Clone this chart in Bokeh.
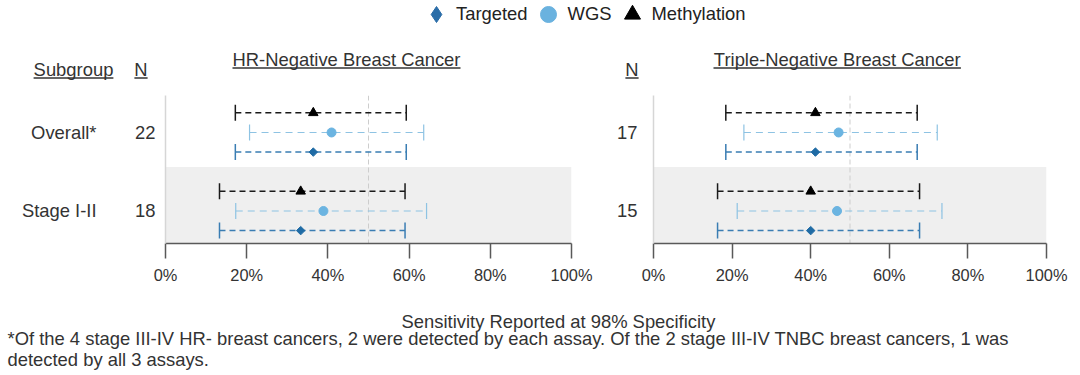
import math
from bokeh.plotting import figure
from bokeh.models import (Range1d, FixedTicker, PrintfTickFormatter, LinearAxis, Span,
                          BoxAnnotation, Whisker, TeeHead, ColumnDataSource, Legend, LegendItem)
from bokeh.layouts import column, row
from bokeh.core.properties import value
from bokeh.embed import file_html
from bokeh.resources import INLINE

# ------------------------------------------------------------------ data
subgroups = ["Overall*", "Stage I-II"]
subgroup_pos = [1, 0]
assays = ["Targeted", "WGS", "Methylation"]

hr_n = [22, 18]
tn_n = [17, 15]

# HR-negative breast cancer: sensitivity (%) and 95% CI
hr_targeted = [36.4, 33.3]
hr_targeted_lo = [17.2, 13.3]
hr_targeted_hi = [59.3, 59.0]
hr_wgs = [40.9, 38.9]
hr_wgs_lo = [20.7, 17.3]
hr_wgs_hi = [63.6, 64.3]
hr_methylation = [36.4, 33.3]
hr_methylation_lo = [17.2, 13.3]
hr_methylation_hi = [59.3, 59.0]

# Triple-negative breast cancer
tn_targeted = [41.2, 40.0]
tn_targeted_lo = [18.4, 16.3]
tn_targeted_hi = [67.1, 67.7]
tn_wgs = [47.1, 46.7]
tn_wgs_lo = [23.0, 21.3]
tn_wgs_hi = [72.2, 73.4]
tn_methylation = [41.2, 40.0]
tn_methylation_lo = [18.4, 16.3]
tn_methylation_hi = [67.1, 67.7]

x_ticks = [0, 20, 40, 60, 80, 100]
reference_line = 50

panel_titles = ["HR-Negative Breast Cancer", "Triple-Negative Breast Cancer"]
column_headers = ["Subgroup", "N", "N"]
x_title = "Sensitivity Reported at 98% Specificity"
footnote = ["*Of the 4 stage III-IV HR- breast cancers, 2 were detected by each assay. "
            "Of the 2 stage III-IV TNBC breast cancers, 1 was",
            "detected by all 3 assays."]

# ------------------------------------------------------------------ styles
FONT = "Liberation Sans"
TXT = "#333333"
FS = "18.4px"
STYLE = {
    "Targeted": dict(offset=-0.25, marker="square", angle=math.pi / 4, size=6,
                     fill="#1F6BA5", line="#3A7DB3", dash="6 4", width=1.5,
                     legend_marker="diamond", legend_fill="#2A6DA8"),
    "WGS": dict(offset=0.0, marker="circle", angle=0, size=9,
                fill="#6BB4E1", line="#8EC3E3", dash="7 5", width=1.2,
                legend_marker="circle", legend_fill="#6AB2DF"),
    "Methylation": dict(offset=0.25, marker="triangle", angle=0, size=9.5,
                        fill="#000000", line="#1A1A1A", dash="6 4", width=1.5,
                        legend_marker="triangle", legend_fill="#000000"),
}
Y_RANGE = (-0.414, 1.471)
BAND_TOP = 0.56


def base_fig(**kw):
    p = figure(output_backend="svg", toolbar_location=None, **kw)
    p.outline_line_color = None
    p.background_fill_color = "white"
    p.border_fill_color = "white"
    return p


def make_panel(width, min_left, min_right, n_vals, n_standoff, series, show_names):
    p = base_fig(width=width, height=195, x_range=Range1d(0, 100),
                 y_range=Range1d(*Y_RANGE), min_border_left=min_left,
                 min_border_right=min_right, min_border_top=0, min_border_bottom=47)
    p.grid.visible = False

    p.add_layout(BoxAnnotation(left=0, right=100, bottom=Y_RANGE[0], top=BAND_TOP,
                               fill_color="#EFEFEF", fill_alpha=1, line_color=None,
                               level="underlay"))
    p.add_layout(Span(location=reference_line, dimension="height", line_color="#CDCDCD",
                      line_width=1, line_dash="5 3", level="underlay"))

    for assay, (vals, lo, hi) in zip(assays, series):
        st = STYLE[assay]
        ys = [yp + st["offset"] for yp in subgroup_pos]
        src = ColumnDataSource(dict(y=ys, x=vals, lo=lo, hi=hi))
        w = Whisker(source=src, base="y", lower="lo", upper="hi", dimension="width",
                    line_color=st["line"], line_width=st["width"], line_dash=st["dash"],
                    level="underlay",
                    lower_head=TeeHead(size=16, line_color=st["line"], line_width=st["width"]),
                    upper_head=TeeHead(size=16, line_color=st["line"], line_width=st["width"]))
        p.add_layout(w)
        p.scatter(x="x", y="y", source=src, marker=st["marker"], angle=st["angle"],
                  size=st["size"], fill_color=st["fill"], line_color=st["fill"])

    ax = p.xaxis[0]
    ax.ticker = FixedTicker(ticks=x_ticks)
    ax.formatter = PrintfTickFormatter(format="%d%%")
    ax.axis_line_color = "#595959"
    ax.axis_line_width = 1.5
    ax.major_tick_line_color = "#595959"
    ax.major_tick_line_width = 1.5
    ax.major_tick_out = 15
    ax.major_tick_in = 0
    ax.minor_tick_out = 0
    ax.minor_tick_in = 0
    ax.major_label_text_font = FONT
    ax.major_label_text_font_size = "16.4px"
    ax.major_label_text_color = TXT
    ax.major_label_standoff = 7

    ay = p.yaxis[0]
    ay.ticker = FixedTicker(ticks=subgroup_pos)
    ay.major_label_overrides = {pos: str(n) for pos, n in zip(subgroup_pos, n_vals)}
    ay.axis_line_color = "#D6D6D6"
    ay.axis_line_width = 1.5
    ay.major_tick_line_color = None
    ay.major_tick_out = 0
    ay.major_tick_in = 0
    ay.minor_tick_out = 0
    ay.minor_tick_in = 0
    ay.major_label_text_font = FONT
    ay.major_label_text_font_size = FS
    ay.major_label_text_color = TXT
    ay.major_label_standoff = n_standoff

    if show_names:
        an = LinearAxis(ticker=FixedTicker(ticks=subgroup_pos),
                        major_label_overrides={pos: s for pos, s in zip(subgroup_pos, subgroups)})
        an.axis_line_color = None
        an.major_tick_line_color = None
        an.minor_tick_line_color = None
        an.major_tick_out = 0
        an.major_tick_in = 0
        an.minor_tick_out = 0
        an.minor_tick_in = 0
        an.major_label_text_font = FONT
        an.major_label_text_font_size = FS
        an.major_label_text_color = TXT
        an.major_label_standoff = 36
        p.add_layout(an, "left")
    return p


# ------------------------------------------------------------------ header strip (page pixel coords)
fh = base_fig(width=1080, height=95, x_axis_type=None, y_axis_type=None,
              x_range=Range1d(0, 1080), y_range=Range1d(95, 0), min_border=0)
head_text = [column_headers[0], column_headers[1], panel_titles[0], column_headers[2], panel_titles[1]]
fh.text(x=[73, 140.5, 346, 631.5, 836.7], y=[69, 69, 59.3, 69, 59.3], text=head_text,
        text_align="center", text_baseline="middle", text_font=value(FONT),
        text_font_size=FS, text_color=TXT)
fh.segment(x0=[33.1, 133.9, 232.0, 624.9, 713.0], x1=[112.9, 147.1, 460.0, 638.1, 960.4],
           y0=[77.5, 77.5, 67.5, 77.5, 67.5], y1=[77.5, 77.5, 67.5, 77.5, 67.5],
           line_color=TXT, line_width=1.3)

# legend (proxy renderers carry the real series but are hidden; only their legend glyphs show)
legend_series = {"Targeted": hr_targeted, "WGS": hr_wgs, "Methylation": hr_methylation}
items = []
for assay in assays:
    st = STYLE[assay]
    r = fh.scatter(x=legend_series[assay], y=subgroup_pos, marker=st["legend_marker"],
                   fill_color=st["legend_fill"], line_color=st["legend_fill"])
    r.visible = False
    items.append(LegendItem(label=value(assay), renderers=[r]))
legend = Legend(items=items, location=(416, 61), orientation="horizontal",
                glyph_width=40, glyph_height=40, label_standoff=-6, spacing=0,
                padding=0, margin=0, border_line_color=None, background_fill_alpha=0,
                label_text_font=FONT, label_text_font_size=FS, label_text_color="#222222")
fh.add_layout(legend)

# ------------------------------------------------------------------ panels
left = make_panel(600, 165, 29, hr_n, 10,
                  [(hr_targeted, hr_targeted_lo, hr_targeted_hi),
                   (hr_wgs, hr_wgs_lo, hr_wgs_hi),
                   (hr_methylation, hr_methylation_lo, hr_methylation_hi)], True)
right = make_panel(480, 53, 34, tn_n, 16,
                   [(tn_targeted, tn_targeted_lo, tn_targeted_hi),
                    (tn_wgs, tn_wgs_lo, tn_wgs_hi),
                    (tn_methylation, tn_methylation_lo, tn_methylation_hi)], False)

# ------------------------------------------------------------------ bottom strip (page pixel coords)
fb = base_fig(width=1080, height=85, x_axis_type=None, y_axis_type=None,
              x_range=Range1d(0, 1080), y_range=Range1d(375, 290), min_border=0)
fb.text(x=[558], y=[320.5], text=[x_title], text_align="center", text_baseline="middle",
        text_font=value(FONT), text_font_size=FS, text_color=TXT)
fb.text(x=[7, 7], y=[338, 359], text=footnote, text_align="left", text_baseline="middle",
        text_font=value(FONT), text_font_size=FS, text_color=TXT)

layout = column(fh, row(left, right), fb)
open("out.html", "w").write(file_html(layout, INLINE))
